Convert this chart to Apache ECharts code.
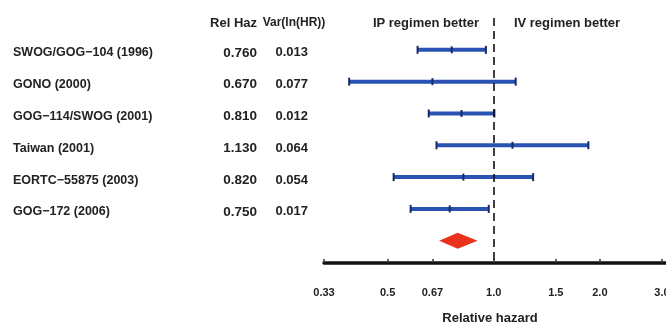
<!DOCTYPE html>
<html><head><meta charset="utf-8">
<script src="https://cdn.jsdelivr.net/npm/echarts@6/dist/echarts.min.js"></script>
<style>html,body{margin:0;padding:0;background:#fff}#c{width:666px;height:325px}</style>
</head><body><div id="c"></div>
<script>
// ---- data ----
const studies = ['SWOG/GOG\u2212104 (1996)', 'GONO (2000)', 'GOG\u2212114/SWOG (2001)', 'Taiwan (2001)', 'EORTC\u221255875 (2003)', 'GOG\u2212172 (2006)'];
const relHazLabels = ['0.760', '0.670', '0.810', '1.130', '0.820', '0.750'];
const varLabels = ['0.013', '0.077', '0.012', '0.064', '0.054', '0.017'];
const relHaz = [0.76, 0.67, 0.81, 1.13, 0.82, 0.75];
const ciLower = [0.608, 0.389, 0.654, 0.688, 0.520, 0.581];
const ciUpper = [0.950, 1.154, 1.004, 1.855, 1.293, 0.968];
const pooledEst = [0.79];
const pooledLower = [0.70];
const pooledUpper = [0.90];
const tickValues = [0.33, 0.5, 0.67, 1.0, 1.5, 2.0, 3.0];
const tickLabels = ['0.33', '0.5', '0.67', '1.0', '1.5', '2.0', '3.0'];
const headers = ['Rel Haz', 'Var(ln(HR))', 'IP regimen better', 'IV regimen better'];
const axisName = 'Relative hazard';

const FONT = '"Liberation Sans", Arial, sans-serif';
const TXT = '#222';
const ln = Math.log;

const ciData = studies.map((s, i) => [ln(ciLower[i]), ln(ciUpper[i]), ln(relHaz[i]), i]);
const textData = studies.map((s, i) => [0, i]);
const poolData = pooledEst.map((e, i) => [ln(pooledLower[i]), ln(pooledUpper[i]), ln(e), studies.length]);

const chart = echarts.init(document.getElementById('c'), null, { renderer: 'canvas' });

function txt(x, y, text, align, size) {
  return { type: 'text', x: x, y: y, style: { text: text, fill: TXT, fontSize: size, fontWeight: 'bold', fontFamily: FONT, align: align, verticalAlign: 'middle', textAlign: align, textVerticalAlign: 'middle' } };
}

const option = {
  animation: false,
  grid: { left: 324, right: 0, top: 18, height: 245, outerBoundsMode: 'none', containLabel: false },
  xAxis: {
    type: 'value', min: ln(0.33), max: ln(3.08),
    splitLine: { show: false },
    axisLine: { onZero: false, lineStyle: { color: '#111', width: 3.5 } },
    axisTick: { customValues: tickValues.map(ln), inside: true, length: 4, lineStyle: { color: '#333', width: 1.5 } },
    axisLabel: {
      customValues: tickValues.map(ln), margin: 24, fontSize: 11, fontWeight: 'bold', color: TXT, fontFamily: FONT,
      hideOverlap: false, showMinLabel: true, showMaxLabel: true,
      formatter: v => { const k = tickValues.findIndex(t => Math.abs(ln(t) - v) < 1e-6); return k >= 0 ? tickLabels[k] : ''; }
    }
  },
  yAxis: { type: 'value', inverse: true, min: -1, max: 6.7, show: false },
  graphic: [
    txt(257, 23, headers[0], 'right', 13),
    txt(294, 23, headers[1], 'center', 12),
    txt(426, 23, headers[2], 'center', 13),
    txt(567, 23, headers[3], 'center', 13),
    txt(490, 318, axisName, 'center', 13)
  ],
  series: [
    {
      type: 'custom', clip: false, data: textData, encode: { x: 0, y: 1 },
      renderItem: (params, api) => {
        const i = params.dataIndex;
        const y = api.coord([0, api.value(1)])[1] + 3;
        return { type: 'group', children: [
          txt(13, y, studies[i], 'left', 12.5),
          txt(257, y, relHazLabels[i], 'right', 13.5),
          txt(308, y, varLabels[i], 'right', 13)
        ] };
      }
    },
    {
      type: 'custom', data: ciData, encode: { x: [0, 1, 2], y: 3 },
      renderItem: (params, api) => {
        const r = api.value(3);
        const lo = api.coord([api.value(0), r]);
        const hi = api.coord([api.value(1), r]);
        const md = api.coord([api.value(2), r]);
        const cap = (p, h) => ({ type: 'line', shape: { x1: p[0], y1: p[1] - h, x2: p[0], y2: p[1] + h }, style: { stroke: '#172a66', lineWidth: 2 } });
        return { type: 'group', children: [
          { type: 'line', shape: { x1: lo[0], y1: lo[1], x2: hi[0], y2: hi[1] }, style: { stroke: '#2a52b2', lineWidth: 4 } },
          cap(lo, 4), cap(hi, 4), cap(md, 3.5)
        ] };
      },
      markLine: {
        silent: true, symbol: 'none', label: { show: false },
        lineStyle: { color: '#111', width: 1.6, type: [8, 5] },
        data: [{ xAxis: 0 }]
      }
    },
    {
      type: 'custom', data: poolData, encode: { x: [0, 1, 2], y: 3 },
      renderItem: (params, api) => {
        const r = api.value(3);
        const lo = api.coord([api.value(0), r]);
        const hi = api.coord([api.value(1), r]);
        const md = api.coord([api.value(2), r]);
        return { type: 'polygon', shape: { points: [lo, [md[0], md[1] - 8], hi, [md[0], md[1] + 8]] }, style: { fill: '#e8321e' } };
      }
    }
  ]
};
chart.setOption(option);
</script>
</body></html>
